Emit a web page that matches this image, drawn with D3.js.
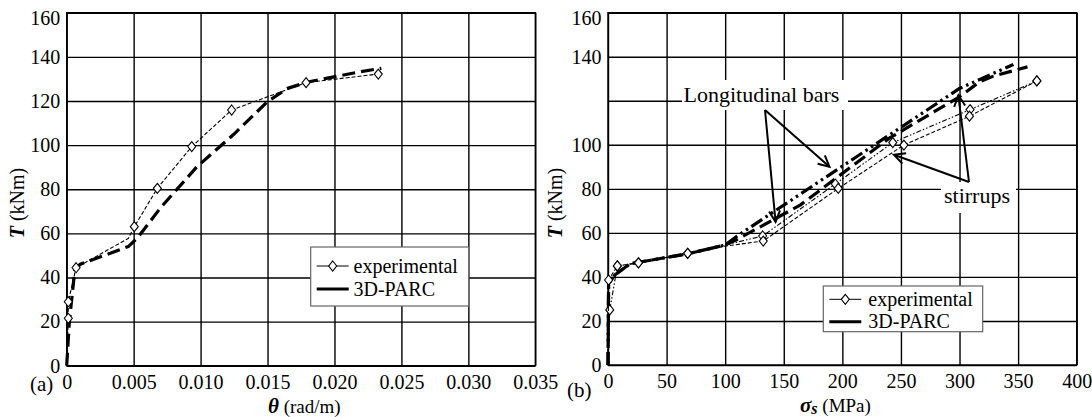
<!DOCTYPE html>
<html>
<head>
<meta charset="utf-8">
<script src="https://cdn.jsdelivr.net/npm/d3@7/dist/d3.min.js"></script>
<style>
  html, body { margin: 0; padding: 0; background: #fff; }
  svg { display: block; font-family: "Liberation Serif", "Times New Roman", serif; }
</style>
</head>
<body>
<svg id="chart" width="1092" height="417"></svg>
<script>
// ---- tick values ----
const thetaTicks = [0, 0.005, 0.010, 0.015, 0.020, 0.025, 0.030, 0.035];
const thetaTickLabels = ["0", "0.005", "0.010", "0.015", "0.020", "0.025", "0.030", "0.035"];
const torqueTicks = [0, 20, 40, 60, 80, 100, 120, 140, 160];
const stressTicks = [0, 50, 100, 150, 200, 250, 300, 350, 400];
const stressTorqueLabels = ["0", "20", "40", "60", "80", "100", "", "140", "160"];

// ---- (a) torque vs twist ----
const expThetaX = [0, 0.00012, 0.00012, 0.0007, 0.0046, 0.00505, 0.00677, 0.00934, 0.01232, 0.01788, 0.02327];
const expThetaT = [0, 21.5, 29, 44.4, 57.7, 63, 80.4, 99.3, 115.9, 128.3, 132.2];
const expThetaMarked = [0, 1, 1, 1, 0, 1, 1, 1, 1, 1, 1];
const parcThetaX = [0, 0.0002, 0.0006, 0.001, 0.0046, 0.0053, 0.007, 0.0097, 0.0125, 0.015, 0.0165, 0.018, 0.0219, 0.0235];
const parcThetaT = [0, 20, 43, 46, 54, 58, 71.5, 90, 105, 119.7, 125.7, 128.6, 133.2, 134.8];

// ---- (b) torque vs steel stress ----
const expLongS = [0, 1.5, 8, 26, 68, 100, 132, 194, 243, 309, 366];
const expLongT = [0, 25, 45, 46.4, 50.7, 54.5, 58.6, 82.2, 101, 116, 129];
const expLongMarked = [0, 1, 1, 1, 1, 0, 1, 1, 1, 1, 1];
const expStirS = [0, 0.5, 8, 26, 68, 100, 132.5, 196.5, 252.5, 308.5, 366];
const expStirT = [0, 38.6, 45, 46.4, 50.7, 54, 56.3, 80.2, 99.9, 113, 129];
const expStirMarked = [0, 1, 1, 1, 1, 0, 1, 1, 1, 1, 1];
const parcLongS = [0, 0.5, 6, 19, 68, 100, 110, 300, 346];
const parcLongT = [0, 37, 41, 46, 50.5, 54.5, 58.5, 125.6, 136.5];
const parcStirS = [0, 0.5, 6, 19, 68, 100, 110, 164, 240, 300, 317, 329, 358];
const parcStirT = [0, 37, 41, 46, 50.5, 54.5, 57, 72.6, 103, 121.8, 128.6, 131.2, 135.4];

const legendNames = ["experimental", "3D-PARC"];

const svg = d3.select("#chart");
const FONT = 20;
const diamondPath = "M0,-5L4,0L0,5L-4,0Z";

function zip(xs, ys, marks) {
  return xs.map((x, i) => ({ x, y: ys[i], m: marks ? marks[i] : 1 }));
}

function drawFrame(x, y, xVals, xFmt, yVals, yFmt) {
  const [x0, x1] = x.range();
  const [y0, y1] = y.range();
  const g = svg.append("g");
  // vertical grid + bottom labels
  const gx = g.append("g").attr("transform", `translate(0,${y0})`)
    .call(d3.axisBottom(x).tickValues(xVals).tickFormat(xFmt)
      .tickSizeInner(-(y0 - y1)).tickSizeOuter(0).tickPadding(9));
  // horizontal grid + left labels
  const gy = g.append("g").attr("transform", `translate(${x0},0)`)
    .call(d3.axisLeft(y).tickValues(yVals).tickFormat(yFmt)
      .tickSizeInner(-(x1 - x0)).tickSizeOuter(0).tickPadding(6.5));
  [gx, gy].forEach(a => {
    a.select(".domain").remove();
    a.selectAll("line").attr("stroke", "#000").attr("stroke-width", 1.4);
    a.selectAll("text").attr("font-family", "Liberation Serif").attr("font-size", FONT).attr("fill", "#000");
  });
  gy.selectAll(".tick").filter(d => d === 160).select("text").attr("dy", "0.57em");
  // frame
  g.append("rect").attr("x", x0).attr("y", y1).attr("width", x1 - x0).attr("height", y0 - y1)
    .attr("fill", "none").attr("stroke", "#000").attr("stroke-width", 1.4);
  return g;
}

function drawSeries(x, y, pts, opts) {
  const line = d3.line().x(d => x(d.x)).y(d => y(d.y));
  svg.append("path").datum(pts).attr("d", line)
    .attr("fill", "none").attr("stroke", "#000")
    .attr("stroke-width", opts.width).attr("stroke-dasharray", opts.dash)
    .attr("stroke-linejoin", "round");
  if (opts.markers) {
    svg.append("g").selectAll("path").data(pts.filter(d => d.m)).join("path")
      .attr("d", diamondPath)
      .attr("transform", d => `translate(${x(d.x)},${y(d.y)})`)
      .attr("fill", "#fff").attr("stroke", "#000").attr("stroke-width", 1.1);
  }
}

function drawLegend(left, top, w, h, row1, row2, textX) {
  const g = svg.append("g");
  g.append("rect").attr("x", left).attr("y", top).attr("width", w).attr("height", h)
    .attr("fill", "#fff").attr("stroke", "#666").attr("stroke-width", 1.2);
  const sx = left + 6, ex = left + 38;
  g.append("line").attr("x1", sx).attr("x2", ex).attr("y1", row1).attr("y2", row1)
    .attr("stroke", "#000").attr("stroke-width", 1);
  g.append("path").attr("d", diamondPath).attr("transform", `translate(${(sx + ex) / 2},${row1})`)
    .attr("fill", "#fff").attr("stroke", "#000").attr("stroke-width", 1.1);
  g.append("line").attr("x1", sx).attr("x2", ex).attr("y1", row2).attr("y2", row2)
    .attr("stroke", "#000").attr("stroke-width", 3);
  [row1, row2].forEach((r, i) => {
    g.append("text").attr("x", textX).attr("y", r).attr("dy", "0.33em")
      .attr("font-size", FONT).text(legendNames[i]);
  });
}

// ================= (a) =================
const xA = d3.scaleLinear().domain([0, 0.035]).range([66.7, 535.3]);
const yA = d3.scaleLinear().domain([0, 160]).range([365.7, 12.7]);
drawFrame(xA, yA, thetaTicks, (d, i) => thetaTickLabels[i], torqueTicks, d => String(d));

drawSeries(xA, yA, zip(parcThetaX, parcThetaT), { width: 3.2, dash: "13,6" });
drawSeries(xA, yA, zip(expThetaX, expThetaT, expThetaMarked), { width: 1.1, dash: "4,2", markers: true });

drawLegend(310.7, 247, 158, 59, 266, 289, 353.5);

// ================= (b) =================
const xB = d3.scaleLinear().domain([0, 400]).range([608, 1076.7]);
const yB = d3.scaleLinear().domain([0, 160]).range([365, 12.7]);
drawFrame(xB, yB, stressTicks, d => String(d), torqueTicks, (d, i) => stressTorqueLabels[i]);

// label backgrounds break the grid
svg.append("rect").attr("x", 682).attr("y", 80).attr("width", 166).attr("height", 30).attr("fill", "#fff");
svg.append("rect").attr("x", 941).attr("y", 182).attr("width", 75).attr("height", 31).attr("fill", "#fff");

drawSeries(xB, yB, zip(parcLongS, parcLongT), { width: 3.2, dash: "13,4,2.5,4,2.5,4" });
drawSeries(xB, yB, zip(parcStirS, parcStirT), { width: 3.2, dash: "13,6" });
drawSeries(xB, yB, zip(expLongS, expLongT, expLongMarked), { width: 1.1, dash: "5,2,1.5,2,1.5,2", markers: true });
drawSeries(xB, yB, zip(expStirS, expStirT, expStirMarked), { width: 1.1, dash: "4,2", markers: true });

drawLegend(823.3, 286, 159.4, 45.7, 299.3, 321.7, 868.3);

// annotations
const defs = svg.append("defs");
defs.append("marker").attr("id", "head").attr("viewBox", "-12 -7 14 14")
  .attr("refX", 0).attr("refY", 0).attr("markerWidth", 14).attr("markerHeight", 14)
  .attr("markerUnits", "userSpaceOnUse").attr("orient", "auto")
  .append("path").attr("d", "M-11,-5.5L0,0L-11,5.5").attr("fill", "none")
  .attr("stroke", "#000").attr("stroke-width", 2);

function arrow(x1, y1, x2, y2) {
  svg.append("line").attr("x1", x1).attr("y1", y1).attr("x2", x2).attr("y2", y2)
    .attr("stroke", "#000").attr("stroke-width", 2).attr("marker-end", "url(#head)");
}
// Longitudinal bars -> 3D-PARC curves
arrow(765, 110, xB(189), yB(90));
arrow(765, 110, xB(143), yB(65));
// stirrups -> experimental curves
arrow(969, 182, xB(299), yB(122.5));
arrow(969, 182, xB(244), yB(95.5));

svg.append("text").attr("x", 683.5).attr("y", 102).attr("font-size", 22).text("Longitudinal bars");
svg.append("text").attr("x", 944).attr("y", 203).attr("font-size", 22).text("stirrups");

// axis titles
function yTitle(x, yc) {
  const t = svg.append("text").attr("transform", `translate(${x},${yc}) rotate(-90)`)
    .attr("text-anchor", "middle").attr("font-size", FONT);
  t.append("tspan").attr("font-weight", "bold").attr("font-style", "italic").text("T");
  t.append("tspan").text(" (kNm)");
}
yTitle(24, 203);
yTitle(562, 203);

const tA = svg.append("text").attr("x", 268).attr("y", 412.5).attr("font-size", 21);
tA.append("tspan").attr("font-weight", "bold").attr("font-style", "italic").text("θ");
tA.append("tspan").attr("font-size", 19).text(" (rad/m)");

const tB = svg.append("text").attr("x", 800).attr("y", 412).attr("font-size", 21);
tB.append("tspan").attr("font-weight", "bold").attr("font-style", "italic").text("σ");
tB.append("tspan").attr("font-weight", "bold").attr("font-style", "italic").attr("font-size", 16).attr("dy", 2).text("s");
tB.append("tspan").attr("font-size", 19).attr("dy", -2).text(" (MPa)");

svg.append("text").attr("x", 30).attr("y", 391).attr("font-size", 21).text("(a)");
svg.append("text").attr("x", 567).attr("y", 397).attr("font-size", 21).text("(b)");
</script>
</body>
</html>
